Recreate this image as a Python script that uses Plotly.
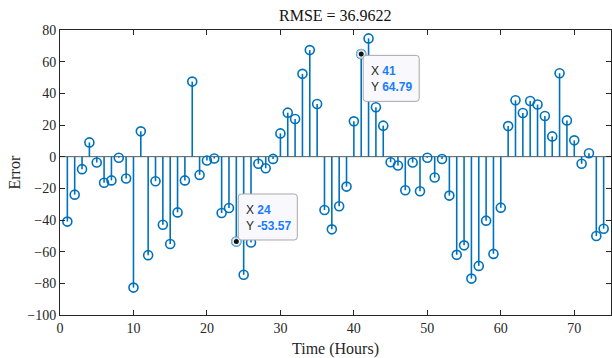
import plotly.graph_objects as go

# Hourly prediction error
hours = list(range(1, 75))
errors = [
    -41.0, -24.0, -7.9, 9.0, -3.7, -16.5, -15.0, -0.7, -13.8, -82.7,
    16.0, -62.2, -15.5, -43.0, -55.2, -35.2, -15.0, 47.4, -11.5, -2.4,
    -1.2, -35.6, -32.4, -53.57, -74.6, -54.2, -4.5, -7.3, -1.4, 14.7,
    27.8, 23.8, 52.3, 67.3, 33.3, -33.7, -45.9, -31.3, -18.9, 22.3,
    64.79, 74.7, 31.2, 19.6, -3.5, -5.6, -21.2, -3.7, -21.8, -0.7,
    -13.2, -1.5, -24.6, -62.0, -56.0, -77.0, -69.0, -40.4, -61.4, -32.2,
    19.3, 35.6, 27.6, 35.2, 32.9, 25.7, 12.8, 52.7, 22.9, 10.3,
    -4.5, 2.2, -50.1, -45.5,
]
rmse_text = "RMSE = 36.9622"
tip_hours = [24, 41]

x_ticks = list(range(0, 71, 10))
y_ticks = list(range(-100, 81, 20))

STEM = "#0072BD"
AXIS = "#262626"
SERIF = "Liberation Serif, Times New Roman, serif"
SANS = "Liberation Sans, Arial, sans-serif"
VALUE_BLUE = "#1a7cff"

# stem segments from the baseline to each value
sx, sy = [], []
for h, e in zip(hours, errors):
    sx += [h, h, None]
    sy += [0, e, None]

fig = go.Figure()
fig.add_trace(go.Scatter(x=[0, 75], y=[0, 0], mode="lines",
                         line=dict(color="#5a5a5a", width=1), hoverinfo="skip"))
fig.add_trace(go.Scatter(x=sx, y=sy, mode="lines",
                         line=dict(color=STEM, width=1.6), hoverinfo="skip"))
fig.add_trace(go.Scatter(x=hours, y=errors, mode="markers",
                         marker=dict(symbol="circle-open", size=9, color=STEM,
                                     line=dict(width=1.6, color=STEM))))

# data tips
tip_vals = [errors[hours.index(h)] for h in tip_hours]
fig.add_trace(go.Scatter(x=tip_hours, y=tip_vals, mode="markers",
                         marker=dict(symbol="circle", size=9, color="rgba(255,255,255,0.6)",
                                     line=dict(width=1, color="#9fc6e6"))))
fig.add_trace(go.Scatter(x=tip_hours, y=tip_vals, mode="markers",
                         marker=dict(symbol="circle", size=5, color="#111111")))

# box layout per tip: (x offset range, y offset range, text y offset) in pixels, up positive
tip_boxes = {
    24: ((2, 61), (1.5, 47.5), 23),
    41: ((2, 58), (-1.3, -47.3), -24.6),
}

def rounded_path(x0, x1, y0, y1, r=3):
    lo, hi = min(y0, y1), max(y0, y1)
    return (f"M{x0+r},{lo} L{x1-r},{lo} Q{x1},{lo} {x1},{lo+r} "
            f"L{x1},{hi-r} Q{x1},{hi} {x1-r},{hi} L{x0+r},{hi} "
            f"Q{x0},{hi} {x0},{hi-r} L{x0},{lo+r} Q{x0},{lo} {x0+r},{lo} Z")

for h, v in zip(tip_hours, tip_vals):
    (bx0, bx1), (by0, by1), ty = tip_boxes[h]
    fig.add_shape(type="path", xref="x", yref="y",
                  xsizemode="pixel", ysizemode="pixel", xanchor=h, yanchor=v,
                  path=rounded_path(bx0, bx1, by0, by1),
                  fillcolor="#f9f9fd", line=dict(color="#a8a8a8", width=1), layer="above")
    fig.add_annotation(
        x=h, y=v, xref="x", yref="y", xanchor="left", yanchor="middle",
        xshift=bx0 + 6, yshift=ty, showarrow=False, align="left",
        text=(f"X <b><span style='color:{VALUE_BLUE}'>{h}</span></b><br>"
              f"Y <b><span style='color:{VALUE_BLUE}'>{v:.2f}</span></b>"),
        font=dict(family=SANS, size=12, color="#262626"),
    )

fig.add_annotation(text=rmse_text, xref="paper", yref="paper", x=0.5, y=1,
                   yanchor="bottom", yshift=4, showarrow=False,
                   font=dict(family=SERIF, size=16, color="#111111"))
fig.add_annotation(text="Time (Hours)", xref="paper", yref="paper", x=0.5, y=0,
                   yanchor="middle", yshift=-34, showarrow=False,
                   font=dict(family=SERIF, size=16, color="#262626"))
fig.add_annotation(text="Error", xref="paper", yref="paper", x=0, y=0.5,
                   xanchor="center", xshift=-46, textangle=-90, showarrow=False,
                   font=dict(family=SERIF, size=16, color="#262626"))

axis_common = dict(showgrid=False, zeroline=False, showline=True, linecolor=AXIS,
                   linewidth=1, mirror="ticks", ticks="inside", ticklen=5,
                   tickcolor=AXIS, tickfont=dict(family=SERIF, size=14, color="#262626"))
fig.update_xaxes(range=[0, 75], tickvals=x_ticks, **axis_common)
fig.update_yaxes(range=[-100, 80], tickvals=y_ticks, **axis_common)

fig.update_layout(width=612, height=358, showlegend=False,
                  margin=dict(l=60, r=1, t=30, b=43),
                  plot_bgcolor="white", paper_bgcolor="white")

fig.write_html("out.html")
